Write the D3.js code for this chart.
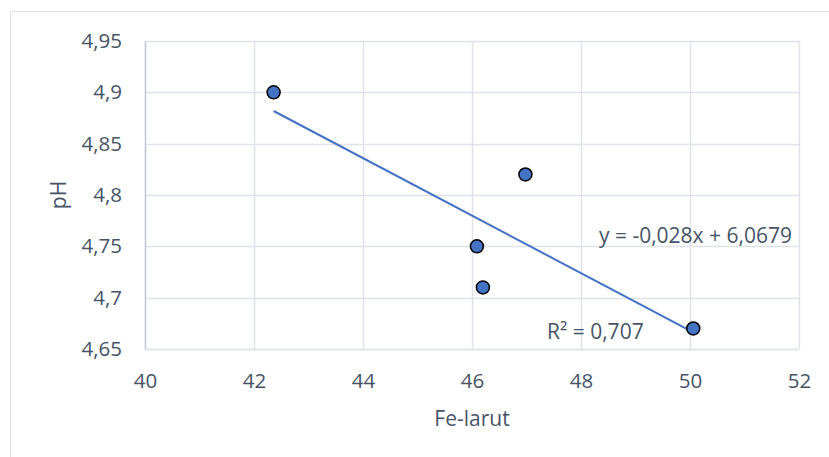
<!DOCTYPE html>
<html><head><meta charset="utf-8">
<script src="https://cdn.jsdelivr.net/npm/d3@7"></script>
<style>body{margin:0;background:#fff}text{font-family:"Open Sans",sans-serif}</style>
</head><body><svg id="c" width="829" height="457"></svg>
<script>
const feLarut = [42.36, 46.98, 46.09, 46.2, 50.06];
const pH = [4.9, 4.82, 4.75, 4.71, 4.67];
const xTicks = [40, 42, 44, 46, 48, 50, 52];
const yTicks = [4.65, 4.7, 4.75, 4.8, 4.85, 4.9, 4.95];
const slope = -0.028, intercept = 6.0679;
const eqLabel = "y = -0,028x + 6,0679";
const r2Label = "R² = 0,707";
const xTitle = "Fe-larut", yTitle = "pH";

const svg = d3.select("#c");
const L = 145, R = 799, T = 41, B = 349;
const textCol = "#475467", gridCol = "#e0e3e9", axisCol = "#c3cad8";
const FT = "20.5px", FL = "21px";
const x = d3.scaleLinear().domain([40, 52]).range([L, R]);
const y = d3.scaleLinear().domain([4.65, 4.95]).range([B, T]);
const fmt = v => String(+v.toFixed(2)).replace(".", ",");

svg.append("rect").attr("x", 10.5).attr("y", 11.5).attr("width", 830).attr("height", 460)
  .attr("fill", "none").attr("stroke", "#e3e3e3");

// grid
svg.append("g").selectAll("line").data(yTicks).join("line")
  .attr("x1", L).attr("x2", R).attr("y1", d => Math.round(y(d)) + .5).attr("y2", d => Math.round(y(d)) + .5)
  .attr("stroke", gridCol).attr("stroke-width", 1.5);
svg.append("g").selectAll("line").data(xTicks).join("line")
  .attr("y1", T).attr("y2", B).attr("x1", d => Math.round(x(d)) + .5).attr("x2", d => Math.round(x(d)) + .5)
  .attr("stroke", gridCol).attr("stroke-width", 1.5);
// axes lines
svg.append("line").attr("x1", L + .5).attr("x2", L + .5).attr("y1", T).attr("y2", B + 1).attr("stroke", axisCol).attr("stroke-width", 1.5);
svg.append("line").attr("x1", L).attr("x2", R).attr("y1", B + .5).attr("y2", B + .5).attr("stroke", gridCol).attr("stroke-width", 1.5);

// tick labels via axes
const ya = svg.append("g").attr("transform", `translate(${L},0)`)
  .call(d3.axisLeft(y).tickValues(yTicks).tickFormat(fmt).tickSize(0).tickPadding(23));
const xa = svg.append("g").attr("transform", `translate(0,${B})`)
  .call(d3.axisBottom(x).tickValues(xTicks).tickFormat(d => d).tickSize(0));
[ya, xa].forEach(g => { g.attr("font-size", null).attr("font-family", null); g.select(".domain").remove(); g.selectAll("text").attr("fill", textCol).style("font-size", FT).style("font-family", "'Open Sans', sans-serif"); });
xa.selectAll("text").attr("dy", null).attr("y", 39);

// titles
svg.append("text").attr("x", (L + R) / 2).attr("y", 426).attr("text-anchor", "middle")
  .attr("fill", textCol).style("font-size", FL).text(xTitle);
svg.append("text").attr("transform", `translate(66,${(T + B) / 2}) rotate(-90)`).attr("text-anchor", "middle")
  .attr("fill", textCol).style("font-size", FL).text(yTitle);

// trendline
const xe = d3.extent(feLarut);
svg.append("line").attr("x1", x(xe[0])).attr("x2", x(xe[1]))
  .attr("y1", y(slope * xe[0] + intercept)).attr("y2", y(slope * xe[1] + intercept))
  .attr("stroke", "#4472C4").attr("stroke-width", 2);

// points
svg.append("g").selectAll("circle").data(feLarut.map((v, i) => [v, pH[i]])).join("circle")
  .attr("cx", d => x(d[0])).attr("cy", d => y(d[1])).attr("r", 6.5)
  .attr("fill", "#4472C4").attr("stroke", "#000").attr("stroke-width", 1.5);

// labels
svg.append("text").attr("x", 792).attr("y", 243).attr("text-anchor", "end")
  .attr("fill", textCol).style("font-size", FL).text(eqLabel);
svg.append("text").attr("x", 547).attr("y", 339)
  .attr("fill", textCol).style("font-size", FL).text(r2Label);
</script></body></html>
